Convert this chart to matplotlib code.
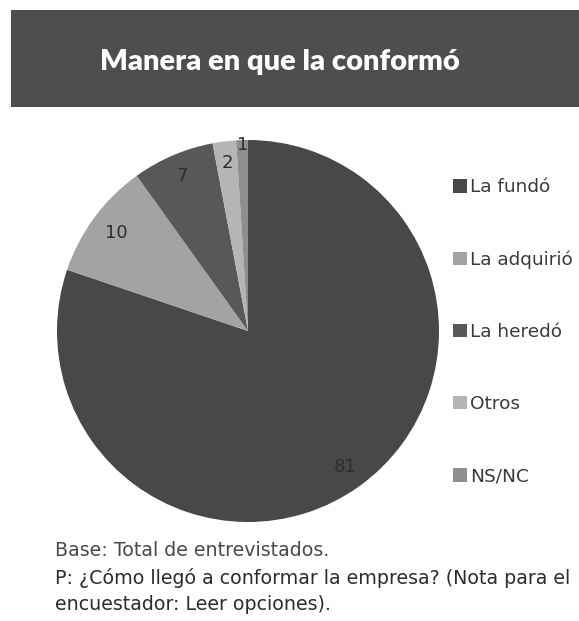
import numpy as np
import matplotlib
matplotlib.use("Agg")
import matplotlib.pyplot as plt
from matplotlib.patches import Rectangle

plt.rcParams['font.family'] = ['DejaVu Sans']

# Survey answers: how the respondent came to own the company
categories = ["La fundó", "La adquirió", "La heredó", "Otros", "NS/NC"]
values = [81, 10, 7, 2, 1]
colors = ["#48484a", "#a3a3a3", "#58585a", "#b5b5b5", "#8e8e8e"]
label_radius = [0.875, 0.86, 0.88, 0.885, 0.975]

title = "Manera en que la conformó"
notes = [
    ("Base: Total de entrevistados.", "#4a4a4a"),
    ("P: ¿Cómo llegó a conformar la empresa? (Nota para el", "#2c2c2c"),
    ("encuestador: Leer opciones).", "#2c2c2c"),
]

W, H = 579, 621
fig = plt.figure(figsize=(W / 100, H / 100), dpi=100)
fig.patch.set_facecolor("white")

# Title banner
fig.add_artist(Rectangle((11 / W, 1 - 107 / H), 1 - 11 / W, 97 / H,
                         transform=fig.transFigure, facecolor="#4e4e50",
                         edgecolor="none"))
fig.text(280 / W, 1 - 62 / H, title, color="white", fontsize=21,
         fontweight="heavy", ha="center", va="center", family="Lato")

# Pie
cx, cy, r = 248, 331, 191
ax = fig.add_axes([(cx - r) / W, (H - cy - r) / H, 2 * r / W, 2 * r / H])
wedges, _ = ax.pie(values, colors=colors, startangle=90, counterclock=False,
                   radius=1.0, wedgeprops=dict(linewidth=0))
for w, v, rr in zip(wedges, values, label_radius):
    ang = np.deg2rad((w.theta1 + w.theta2) / 2)
    ax.text(rr * np.cos(ang), rr * np.sin(ang), str(v), ha="center",
            va="center", fontsize=13, color="#2e2e2e")
ax.set_xlim(-1, 1)
ax.set_ylim(-1, 1)
ax.set_aspect("auto")
ax.axis("off")

# Legend
fig.legend(wedges, categories, loc="upper left",
           bbox_to_anchor=(446 / W, 1 - 171 / H), frameon=False,
           fontsize=13.3, handlelength=0.72, handleheight=0.72,
           handletextpad=0.2, labelspacing=2.93, labelcolor="#3a3a3a",
           borderaxespad=0)

# Footnotes
for i, (line, col) in enumerate(notes):
    fig.text(55 / W, 1 - (551 + 26.5 * i) / H, line, fontsize=13.7,
             color=col, ha="left", va="center")

fig.savefig("out.png", dpi=100)
